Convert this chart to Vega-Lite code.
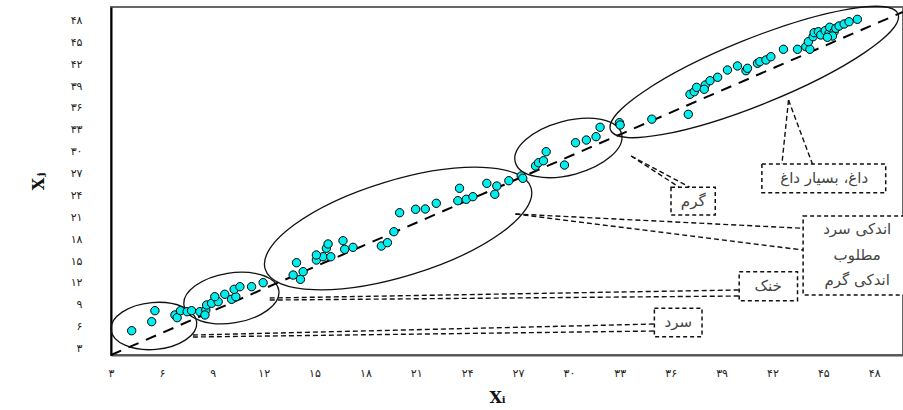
{
  "$schema": "https://vega.github.io/schema/vega-lite/v6.json",
  "width": 792,
  "height": 348,
  "autosize": {"type": "none"},
  "padding": {"left": 111, "top": 7, "right": 0, "bottom": 55},
  "background": "white",
  "config": {
    "view": {"stroke": "#666", "strokeWidth": 2},
    "axis": {"grid": false, "labelOverlap": false, "labelBound": false}
  },
  "datasets": {
    "points": [
      {"x": 4.22, "y": 5.44}, {"x": 5.40, "y": 6.68}, {"x": 5.59, "y": 8.19},
      {"x": 6.77, "y": 7.60}, {"x": 6.90, "y": 7.23}, {"x": 7.10, "y": 8.19}, {"x": 7.49, "y": 8.05},
      {"x": 7.75, "y": 8.19}, {"x": 8.24, "y": 8.05}, {"x": 8.59, "y": 8.28}, {"x": 8.54, "y": 7.60},
      {"x": 8.64, "y": 8.97}, {"x": 8.93, "y": 9.20}, {"x": 9.32, "y": 9.42}, {"x": 9.12, "y": 10.11},
      {"x": 9.71, "y": 10.44}, {"x": 10.11, "y": 9.75}, {"x": 10.36, "y": 10.11}, {"x": 10.26, "y": 11.12},
      {"x": 10.60, "y": 11.48}, {"x": 11.29, "y": 11.48}, {"x": 11.97, "y": 12.03},
      {"x": 13.74, "y": 13.08}, {"x": 14.17, "y": 12.49}, {"x": 14.33, "y": 13.54}, {"x": 13.94, "y": 14.77},
      {"x": 15.11, "y": 15.14}, {"x": 15.50, "y": 15.59}, {"x": 15.11, "y": 15.83}, {"x": 15.96, "y": 15.59},
      {"x": 15.70, "y": 16.75}, {"x": 15.80, "y": 17.34}, {"x": 16.78, "y": 16.61}, {"x": 17.27, "y": 16.88},
      {"x": 16.68, "y": 17.79}, {"x": 18.94, "y": 17.06}, {"x": 19.30, "y": 17.52}, {"x": 19.68, "y": 19.02},
      {"x": 20.02, "y": 21.63}, {"x": 20.96, "y": 22.10}, {"x": 21.53, "y": 22.14}, {"x": 22.18, "y": 22.92},
      {"x": 23.45, "y": 23.28}, {"x": 23.95, "y": 23.47}, {"x": 24.34, "y": 23.83}, {"x": 23.55, "y": 24.98},
      {"x": 25.16, "y": 25.66}, {"x": 25.75, "y": 25.29}, {"x": 25.63, "y": 24.16}, {"x": 26.46, "y": 26.02},
      {"x": 27.19, "y": 26.67}, {"x": 27.28, "y": 26.35},
      {"x": 28.03, "y": 28.04}, {"x": 28.21, "y": 28.49}, {"x": 28.50, "y": 28.76}, {"x": 28.66, "y": 30.00},
      {"x": 29.74, "y": 28.17}, {"x": 30.39, "y": 31.23}, {"x": 31.03, "y": 31.60}, {"x": 31.60, "y": 32.06},
      {"x": 31.84, "y": 33.35}, {"x": 32.98, "y": 33.98}, {"x": 33.02, "y": 33.66},
      {"x": 34.89, "y": 34.46}, {"x": 37.04, "y": 35.13}, {"x": 37.14, "y": 37.87}, {"x": 37.39, "y": 38.23},
      {"x": 37.53, "y": 38.83}, {"x": 38.04, "y": 39.15}, {"x": 37.98, "y": 38.56}, {"x": 38.32, "y": 39.74},
      {"x": 38.77, "y": 40.21}, {"x": 39.35, "y": 41.21}, {"x": 39.94, "y": 41.76}, {"x": 40.44, "y": 41.11},
      {"x": 40.53, "y": 41.44}, {"x": 41.12, "y": 42.13}, {"x": 41.26, "y": 42.35}, {"x": 41.62, "y": 42.58},
      {"x": 41.91, "y": 43.03}, {"x": 42.65, "y": 44.05}, {"x": 43.48, "y": 44.05}, {"x": 43.97, "y": 44.41},
      {"x": 44.21, "y": 44.05}, {"x": 44.12, "y": 45.09}, {"x": 44.40, "y": 45.78}, {"x": 44.46, "y": 46.33},
      {"x": 44.71, "y": 46.46}, {"x": 44.85, "y": 46.01}, {"x": 45.11, "y": 46.60}, {"x": 45.34, "y": 46.24},
      {"x": 45.38, "y": 47.07}, {"x": 45.64, "y": 46.46}, {"x": 45.74, "y": 46.93}, {"x": 45.93, "y": 47.24},
      {"x": 46.23, "y": 47.52}, {"x": 46.52, "y": 47.83}, {"x": 47.01, "y": 48.16}, {"x": 45.54, "y": 45.87},
      {"x": 45.24, "y": 45.69}
    ],
    "diagonal": [{"x": 3, "y": 2.11}, {"x": 49.7, "y": 49.18}],
    "zones": [
      {"zone": "cold", "x": 5.53, "y": 6.09},
      {"zone": "cool", "x": 10.10, "y": 9.93},
      {"zone": "mid", "x": 19.93, "y": 19.46},
      {"zone": "warm", "x": 29.97, "y": 30.51},
      {"zone": "hot", "x": 40.93, "y": 40.93}
    ],
    "boxes": [
      {"x1": 41.38, "x2": 48.68, "y1": 24.37, "y2": 28.31},
      {"x1": 36.02, "x2": 38.63, "y1": 21.32, "y2": 25.12},
      {"x1": 43.81, "x2": 49.9, "y1": 10.34, "y2": 21.18},
      {"x1": 40.04, "x2": 43.48, "y1": 9.56, "y2": 13.54},
      {"x1": 35.04, "x2": 37.85, "y1": 4.62, "y2": 8.52}
    ],
    "leaders": [
      {"x1": 42.95, "y1": 37.09, "x2": 42.56, "y2": 28.31},
      {"x1": 42.95, "y1": 37.09, "x2": 44.36, "y2": 28.31},
      {"x1": 33.67, "y1": 29.41, "x2": 36.51, "y2": 25.12},
      {"x1": 33.67, "y1": 29.41, "x2": 37.14, "y2": 25.12},
      {"x1": 26.85, "y1": 21.45, "x2": 43.81, "y2": 19.49},
      {"x1": 26.85, "y1": 21.45, "x2": 43.81, "y2": 16.51},
      {"x1": 12.36, "y1": 9.93, "x2": 40.04, "y2": 11.03},
      {"x1": 12.36, "y1": 9.65, "x2": 40.04, "y2": 10.20},
      {"x1": 7.83, "y1": 4.85, "x2": 35.04, "y2": 6.36},
      {"x1": 7.83, "y1": 4.58, "x2": 35.04, "y2": 5.40}
    ],
    "labels": [
      {"label": "داغ، بسیار داغ", "x": 45.05, "y": 26.39},
      {"label": "گرم", "x": 37.33, "y": 23.24},
      {"label": "اندکی سرد", "x": 47.0, "y": 19.35},
      {"label": "مطلوب", "x": 47.0, "y": 15.83},
      {"label": "اندکی گرم", "x": 47.0, "y": 12.40},
      {"label": "خنک", "x": 41.75, "y": 11.57},
      {"label": "سرد", "x": 36.45, "y": 6.64}
    ]
  },
  "layer": [
    {
      "data": {"name": "diagonal"},
      "mark": {"type": "line", "stroke": "#000", "strokeWidth": 2, "strokeDash": [11, 8]},
      "encoding": {
        "x": {
          "field": "x", "type": "quantitative",
          "scale": {"domain": [3, 49.7], "nice": false, "zero": false},
          "axis": {
            "title": "Xᵢ",
            "values": [3, 6, 9, 12, 15, 18, 21, 24, 27, 30, 33, 36, 39, 42, 45, 48],
            "tickCount": 30,
            "labelExpr": "replace(replace(replace(replace(replace(replace(replace(replace(replace(replace(datum.label,/0/g,'۰'),/1/g,'۱'),/2/g,'۲'),/3/g,'۳'),/4/g,'۴'),/5/g,'۵'),/6/g,'۶'),/7/g,'۷'),/8/g,'۸'),/9/g,'۹')",
            "ticks": false,
            "labelPadding": 12,
            "labelOverlap": false,
            "labelFlush": false,
            "labelFont": "DejaVu Sans",
            "labelFontSize": 11,
            "labelColor": "#222",
            "domainColor": "#555",
            "domainWidth": 2,
            "titleFont": "DejaVu Serif",
            "titleFontSize": 16,
            "titleFontWeight": "bold",
            "titleColor": "#111",
            "titleX": 386,
            "titlePadding": 11
          }
        },
        "y": {
          "field": "y", "type": "quantitative",
          "scale": {"domain": [2.11, 49.85], "nice": false, "zero": false},
          "axis": {
            "title": "Xⱼ",
            "values": [3, 6, 9, 12, 15, 18, 21, 24, 27, 30, 33, 36, 39, 42, 45, 48],
            "tickCount": 30,
            "labelExpr": "replace(replace(replace(replace(replace(replace(replace(replace(replace(replace(datum.label,/0/g,'۰'),/1/g,'۱'),/2/g,'۲'),/3/g,'۳'),/4/g,'۴'),/5/g,'۵'),/6/g,'۶'),/7/g,'۷'),/8/g,'۸'),/9/g,'۹')",
            "ticks": false,
            "labelPadding": 29,
            "labelOverlap": false,
            "labelFlush": false,
            "labelFont": "DejaVu Sans",
            "labelFontSize": 11,
            "labelColor": "#222",
            "domainColor": "#000",
            "domainWidth": 2,
            "titleFont": "DejaVu Serif",
            "titleFontSize": 16,
            "titleFontWeight": "bold",
            "titleColor": "#111",
            "titlePadding": 24
          }
        }
      }
    },
    {
      "data": {"name": "zones"},
      "transform": [{"filter": "datum.zone == 'cold'"}],
      "mark": {"type": "point", "filled": false, "stroke": "#111", "strokeWidth": 1.3, "opacity": 1,
        "shape": "M 1 0 C 1 0.3018 0.5523 0.5465 0 0.5465 C -0.5523 0.5465 -1 0.3018 -1 0 C -1 -0.3018 -0.5523 -0.5465 0 -0.5465 C 0.5523 -0.5465 1 -0.3018 1 0 Z",
        "size": 7396, "angle": 355},
      "encoding": {"x": {"field": "x", "type": "quantitative"}, "y": {"field": "y", "type": "quantitative"}}
    },
    {
      "data": {"name": "zones"},
      "transform": [{"filter": "datum.zone == 'cool'"}],
      "mark": {"type": "point", "filled": false, "stroke": "#111", "strokeWidth": 1.3, "opacity": 1,
        "shape": "M 1 0 C 1 0.2877 0.5523 0.5208 0 0.5208 C -0.5523 0.5208 -1 0.2877 -1 0 C -1 -0.2877 -0.5523 -0.5208 0 -0.5208 C 0.5523 -0.5208 1 -0.2877 1 0 Z",
        "size": 9216, "angle": 351},
      "encoding": {"x": {"field": "x", "type": "quantitative"}, "y": {"field": "y", "type": "quantitative"}}
    },
    {
      "data": {"name": "zones"},
      "transform": [{"filter": "datum.zone == 'mid'"}],
      "mark": {"type": "point", "filled": false, "stroke": "#111", "strokeWidth": 1.3, "opacity": 1,
        "shape": "M 1 0 C 1 0.1907 0.5523 0.3453 0 0.3453 C -0.5523 0.3453 -1 0.1907 -1 0 C -1 -0.1907 -0.5523 -0.3453 0 -0.3453 C 0.5523 -0.3453 1 -0.1907 1 0 Z",
        "size": 77284, "angle": 343},
      "encoding": {"x": {"field": "x", "type": "quantitative"}, "y": {"field": "y", "type": "quantitative"}}
    },
    {
      "data": {"name": "zones"},
      "transform": [{"filter": "datum.zone == 'warm'"}],
      "mark": {"type": "point", "filled": false, "stroke": "#111", "strokeWidth": 1.3, "opacity": 1,
        "shape": "M 1 0 C 1 0.2711 0.5523 0.4909 0 0.4909 C -0.5523 0.4909 -1 0.2711 -1 0 C -1 -0.2711 -0.5523 -0.4909 0 -0.4909 C 0.5523 -0.4909 1 -0.2711 1 0 Z",
        "size": 12100, "angle": 345},
      "encoding": {"x": {"field": "x", "type": "quantitative"}, "y": {"field": "y", "type": "quantitative"}}
    },
    {
      "data": {"name": "zones"},
      "transform": [{"filter": "datum.zone == 'hot'"}],
      "mark": {"type": "point", "filled": false, "stroke": "#111", "strokeWidth": 1.3, "opacity": 1,
        "shape": "M 1 0 C 1 0.1176 0.5523 0.2129 0 0.2129 C -0.5523 0.2129 -1 0.1176 -1 0 C -1 -0.1176 -0.5523 -0.2129 0 -0.2129 C 0.5523 -0.2129 1 -0.1176 1 0 Z",
        "size": 96100, "angle": 338},
      "encoding": {"x": {"field": "x", "type": "quantitative"}, "y": {"field": "y", "type": "quantitative"}}
    },
    {
      "data": {"name": "leaders"},
      "mark": {"type": "rule", "stroke": "#111", "strokeWidth": 1.4, "strokeDash": [5, 3]},
      "encoding": {
        "x": {"field": "x1", "type": "quantitative"},
        "y": {"field": "y1", "type": "quantitative"},
        "x2": {"field": "x2"},
        "y2": {"field": "y2"}
      }
    },
    {
      "data": {"name": "boxes"},
      "mark": {"type": "rect", "fill": "white", "stroke": "#111", "strokeWidth": 1.5, "strokeDash": [4, 3]},
      "encoding": {
        "x": {"field": "x1", "type": "quantitative"},
        "x2": {"field": "x2"},
        "y": {"field": "y1", "type": "quantitative"},
        "y2": {"field": "y2"}
      }
    },
    {
      "data": {"name": "labels"},
      "mark": {"type": "text", "font": "DejaVu Sans", "fontSize": 15, "fill": "#444", "align": "center", "baseline": "middle"},
      "encoding": {
        "x": {"field": "x", "type": "quantitative"},
        "y": {"field": "y", "type": "quantitative"},
        "text": {"field": "label"}
      }
    },
    {
      "data": {"name": "points"},
      "mark": {"type": "point", "shape": "circle", "filled": true, "fill": "#00EEEE", "stroke": "#000", "strokeWidth": 1, "size": 70, "opacity": 1},
      "encoding": {
        "x": {"field": "x", "type": "quantitative"},
        "y": {"field": "y", "type": "quantitative"}
      }
    }
  ]
}
